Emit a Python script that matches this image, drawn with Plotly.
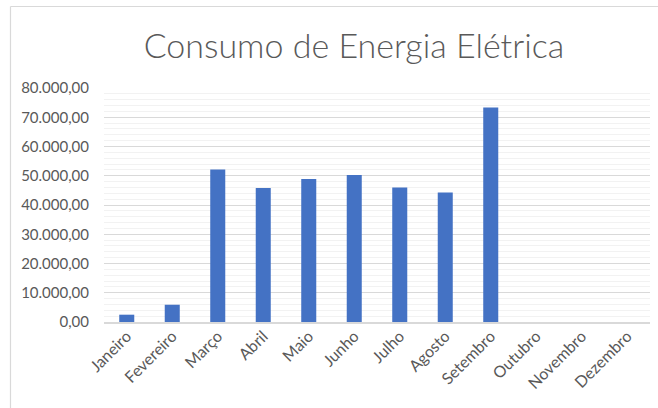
import plotly.graph_objects as go

meses = ["Janeiro", "Fevereiro", "Março", "Abril", "Maio", "Junho", "Julho",
         "Agosto", "Setembro", "Outubro", "Novembro", "Dezembro"]
consumo = [2500, 5900, 52150, 45800, 48900, 50250, 46000, 44300, 73300, None, None, None]
y_ticks = [0, 10000, 20000, 30000, 40000, 50000, 60000, 70000, 80000]

W, H = 658, 408
L, R, T, B = 104, 8, 88, 86
pw, ph = W - L - R, H - T - B

def px_to_paper_x(px):
    return (px - L) / pw

def px_to_paper_y(py):
    return (H - B - py) / ph

fig = go.Figure(go.Bar(
    x=meses, y=consumo, marker=dict(color="#4472C4", line=dict(width=0)),
))

fig.update_layout(
    width=W, height=H,
    margin=dict(l=L, r=R, t=T, b=B, autoexpand=False),
    paper_bgcolor="white", plot_bgcolor="white",
    separators=",.",
    bargap=0.67,
    showlegend=False,
    font=dict(family="Lato", color="#595959"),
    title=dict(text="Consumo de Energia Elétrica", x=354 / W, xanchor="center",
               y=1 - 46 / H, yanchor="middle", yref="container",
               font=dict(family="Lato", size=34, color="#595959", weight=300)),
    shapes=[
        dict(type="line", xref="paper", yref="paper",
             x0=px_to_paper_x(10.5), x1=px_to_paper_x(10.5),
             y0=px_to_paper_y(6.5), y1=px_to_paper_y(420),
             line=dict(color="#d9d9d9", width=1.2)),
        dict(type="line", xref="paper", yref="paper",
             x0=px_to_paper_x(10.5), x1=px_to_paper_x(680),
             y0=px_to_paper_y(6.5), y1=px_to_paper_y(6.5),
             line=dict(color="#d9d9d9", width=1.2)),
    ],
)

fig.update_xaxes(
    tickangle=-45, tickfont=dict(size=16, color="#595959", family="Lato"),
    showline=True, linecolor="#d9d9d9", linewidth=1.5,
    showgrid=False, ticks="", automargin=False,
    ticklabelshift=0, ticklabelstandoff=-3,
)
fig.update_yaxes(
    range=[0, 80000], tickvals=y_ticks, tickformat=",.2f",
    tickfont=dict(size=15, color="#595959", family="Lato"),
    showgrid=True, gridcolor="#d9d9d9", gridwidth=1,
    zeroline=False, showline=False, ticks="", automargin=False,
    ticklabelstandoff=14,
    minor=dict(dtick=2000, showgrid=True, gridcolor="#f2f2f2", gridwidth=1),
)

fig.write_html(
    "out.html",
    config={"displayModeBar": False},
    post_script="document.body.style.margin='0';document.body.style.overflow='hidden';",
)
